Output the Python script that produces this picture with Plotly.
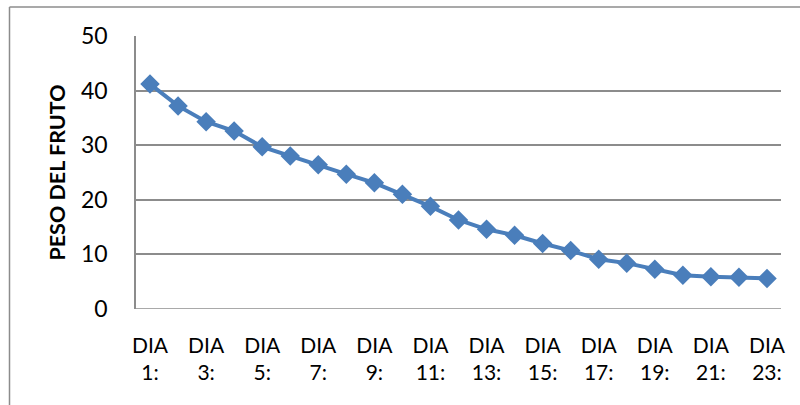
import plotly.graph_objects as go

# Daily fruit weight readings
dias = [f"DIA {i}:" for i in range(1, 24)]
peso = [41.2, 37.2, 34.3, 32.6, 29.7, 28.0, 26.4, 24.7, 23.1, 21.0,
        18.8, 16.3, 14.6, 13.5, 12.0, 10.7, 9.1, 8.4, 7.3, 6.2,
        5.9, 5.8, 5.6]
y_ticks = [0, 10, 20, 30, 40, 50]
y_title = "PESO DEL FRUTO"

# Only every other day carries a label, split over two lines
tick_vals = dias[::2]
tick_text = [d.replace(" ", "<br>") for d in tick_vals]

W, H = 800, 405
L, R, T, B = 136, 19, 36, 96
pw, ph = W - L - R, H - T - B


def px_x(px):
    return (px - L) / pw


def px_y(py):
    return (H - B - py) / ph


grey = "#8c8c8c"
blue = "#4A7EBB"
font = "Lato, 'Open Sans', sans-serif"

fig = go.Figure(
    go.Scatter(
        x=dias, y=peso, mode="lines+markers",
        line=dict(color=blue, width=4),
        marker=dict(symbol="diamond", size=15, color=blue),
        cliponaxis=False,
    )
)

fig.update_layout(
    width=W, height=H,
    margin=dict(l=L, r=R, t=T, b=B),
    paper_bgcolor="white", plot_bgcolor="white",
    showlegend=False,
    font=dict(family=font, size=20, color="black"),
    xaxis=dict(
        type="category", categoryorder="array", categoryarray=dias,
        range=[-0.5, len(dias) - 0.5],
        tickmode="array", tickvals=tick_vals, ticktext=tick_text,
        tickfont=dict(size=21),
        showgrid=False, zeroline=False, showline=False, ticks="",
        ticklabelstandoff=22,
    ),
    yaxis=dict(
        range=[0, 50], tickvals=y_ticks,
        tickfont=dict(size=23),
        showgrid=True, gridcolor=grey, gridwidth=1.5,
        zeroline=False, showline=True, linecolor=grey, linewidth=1.5,
        ticks="", ticklabelstandoff=22,
        title=dict(text=f"<b>{y_title}</b>", font=dict(size=21.5), standoff=9),
    ),
    shapes=[
        # chart frame: left and top edges
        dict(type="line", xref="paper", yref="paper",
             x0=px_x(9.5), x1=px_x(9.5), y0=px_y(H), y1=px_y(7),
             line=dict(color=grey, width=1.5)),
        dict(type="line", xref="paper", yref="paper",
             x0=px_x(9.5), x1=px_x(W), y0=px_y(7), y1=px_y(7),
             line=dict(color=grey, width=1.5)),
        # bottom axis line
        dict(type="line", xref="paper", yref="y",
             x0=0, x1=1, y0=0, y1=0,
             line=dict(color=grey, width=1.5)),
    ],
)

fig.write_html("out.html")
